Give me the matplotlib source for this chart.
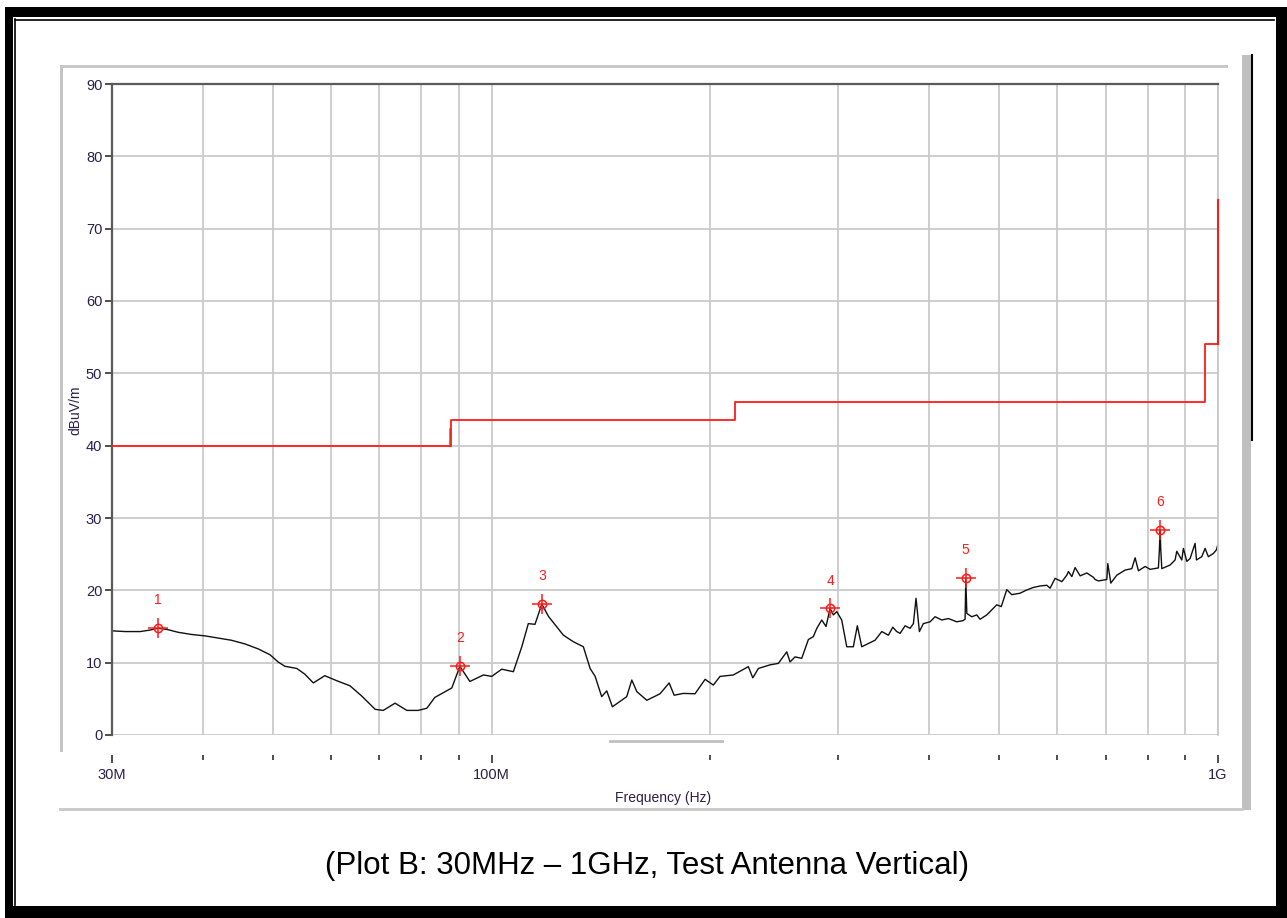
import matplotlib
matplotlib.use("Agg")
import matplotlib.pyplot as plt
from matplotlib.patches import Rectangle
from matplotlib.lines import Line2D
from matplotlib.ticker import FixedLocator, NullFormatter

# measured trace (frequency in MHz, level in dBuV/m)
trace_mhz = [30.0, 31.3, 32.8, 33.8, 34.7, 35.7, 37.0, 38.6, 40.3, 42.0, 43.8, 45.7, 47.7,
             49.5, 50.8, 51.9, 53.9, 55.3, 56.8, 58.9, 61.2, 63.8, 66.2, 69.1, 70.9, 73.6,
             76.4, 79.2, 81.4, 83.5, 88.1, 90.4, 93.3, 97.4, 100.0, 103.2, 107.1, 110.0,
             112.3, 114.7, 117.2, 119.7, 125.5, 129.5, 133.7, 136.6, 138.8, 141.7, 144.0,
             146.6, 153.4, 155.9, 158.4, 163.5, 170.5, 175.5, 178.3, 183.6, 190.5, 196.7,
             201.9, 206.2, 215.1, 225.6, 228.8, 232.9, 241.7, 248.1, 254.8, 257.5, 261.6,
             267.2, 272.9, 277.2, 280.3, 284.7, 288.6, 292.3, 295.4, 298.6, 303.3, 308.2,
             314.7, 318.7, 323.2, 337.1, 344.4, 351.7, 356.6, 361.1, 365.0, 370.8, 376.7,
             380.7, 383.9, 388.0, 392.9, 401.4, 407.8, 416.5, 425.4, 436.8, 445.2, 448.5,
             449.5, 451.0, 458.1, 465.4, 470.3, 480.4, 488.1, 495.9, 503.0, 511.9, 520.0,
             533.9, 545.3, 556.9, 568.9, 581.1, 587.2, 596.6, 609.7, 619.2, 622.4, 629.1,
             635.7, 645.9, 659.7, 673.7, 677.3, 684.4, 702.9, 705.1, 711.9, 725.6, 744.9,
             760.9, 768.9, 777.0, 793.7, 806.4, 827.8, 830.5, 832.3, 834.0, 836.8, 859.1,
             872.8, 877.5, 891.5, 896.1, 905.8, 915.3, 929.9, 934.0, 949.8, 959.9, 969.9,
             985.5, 995.0, 1000.0]
trace_db = [14.4, 14.3, 14.3, 14.5, 14.75, 14.6, 14.2, 13.9, 13.7, 13.4, 13.1, 12.6, 11.9,
            11.1, 10.1, 9.5, 9.2, 8.4, 7.2, 8.2, 7.5, 6.8, 5.4, 3.55, 3.4, 4.4,
            3.4, 3.4, 3.7, 5.2, 6.5, 9.5, 7.4, 8.3, 8.1, 9.1, 8.75, 12.2,
            15.4, 15.3, 18.1, 16.4, 13.8, 12.9, 12.2, 9.2, 8.1, 5.3, 6.1,
            3.9, 5.3, 7.6, 6.0, 4.8, 5.7, 7.2, 5.5, 5.75, 5.7, 7.7,
            6.9, 8.1, 8.3, 9.45, 7.9, 9.2, 9.7, 9.9, 11.5, 10.1, 10.8,
            10.6, 13.2, 13.6, 14.75, 15.9, 15.0, 17.5, 16.6, 17.05, 15.9, 12.2,
            12.2, 15.1, 12.2, 13.1, 14.3, 13.8, 14.9, 14.3, 14.05, 15.1, 14.75,
            15.4, 18.9, 14.3, 15.4, 15.65, 16.35, 15.9, 16.1, 15.65, 15.8, 16.0,
            21.6, 16.8, 16.35, 16.6, 16.0, 16.6, 17.3, 18.0, 17.75, 20.1, 19.4,
            19.6, 20.05, 20.4, 20.6, 20.7, 20.3, 21.65, 21.2, 22.1, 22.6, 21.9,
            23.15, 22.0, 22.4, 21.8, 21.5, 21.3, 21.5, 23.7, 21.0, 22.1, 22.8,
            23.0, 24.5, 22.7, 23.3, 22.9, 23.1, 25.7, 28.4, 25.7, 23.0, 23.5,
            24.2, 25.4, 24.2, 25.8, 24.0, 24.4, 26.5, 24.2, 24.65, 25.8, 24.65,
            25.1, 25.6, 26.4]

# limit line (step edges in MHz, level per step)
limit_edges_mhz = [30, 88, 216, 960, 1000]
limit_db = [40, 43.5, 46, 54]
limit_top_db = 74

# marker peaks
marker_mhz = [34.7, 90.4, 117.2, 292.3, 449.5, 832.3]
marker_db = [14.8, 9.5, 18.1, 17.5, 21.7, 28.4]
marker_labels = ['1', '2', '3', '4', '5', '6']

x_major = [30, 100, 1000]
x_major_labels = ['30M', '100M', '1G']
x_minor = [40, 50, 60, 70, 80, 90, 200, 300, 400, 500, 600, 700, 800, 900]
y_ticks = [0, 10, 20, 30, 40, 50, 60, 70, 80, 90]

W, H = 1287, 918
fig = plt.figure(figsize=(W / 100, H / 100), dpi=100)
fig.patch.set_facecolor('white')

TXT = '#2a1f4a'
RED = '#ff1a1a'


def fx(x):
    return x / W


def fy(y):
    return 1 - y / H


def fig_rect(x0, y0, x1, y1, color):
    fig.add_artist(Rectangle((fx(x0), fy(y1)), fx(x1) - fx(x0), fy(y0) - fy(y1),
                             transform=fig.transFigure, facecolor=color,
                             edgecolor='none', zorder=0))


def fig_line(xs, ys, color, lw):
    fig.add_artist(Line2D([fx(v) for v in xs], [fy(v) for v in ys],
                          transform=fig.transFigure, color=color, lw=lw, zorder=1))


# screenshot frame
fig_rect(5, 7, 1287, 17, 'black')
fig_rect(5, 7, 13, 918, 'black')
fig_rect(1276, 7, 1287, 918, 'black')
fig_rect(5, 906, 1287, 918, 'black')
fig_line([14.5, 14.5], [19, 905], 'black', 1.2)
fig_line([14.5, 1274], [19.5, 19.5], 'black', 1.2)

# panel borders
fig_rect(60, 65, 63, 752, '#c4c4c4')
fig_rect(60, 65, 1228, 68, '#c8c8c8')
fig_rect(1242, 55, 1251, 810, '#c0c0c0')
fig_line([1252, 1252], [55, 440], 'black', 1.5)
fig_line([60, 1242], [808.5, 808.5], '#c8c8c8', 2)
fig_line([610, 722], [740.5, 740.5], '#c0c0c0', 2)

ax = fig.add_axes([fx(112), fy(735), fx(1218) - fx(112), fy(84) - fy(735)])
ax.set_facecolor('white')
ax.set_xscale('log')
ax.set_xlim(30, 1000)
ax.set_ylim(0, 90)

ax.set_axisbelow(True)
ax.grid(True, which='both', axis='both', color='#cacaca', lw=1.3)

# limit line
ax.plot([87.6, 87.6], [40, 42.3], color='#20c020', lw=1.2)
ax.step(limit_edges_mhz, limit_db + [limit_db[-1]], where='post', color=RED, lw=1.3,
        clip_on=False, zorder=3)
ax.plot([limit_edges_mhz[-1], limit_edges_mhz[-1]], [limit_db[-1], limit_top_db],
        color=RED, lw=1.5, clip_on=False, zorder=4)

# trace
ax.plot(trace_mhz, trace_db, color='#101010', lw=1.0)

# markers
ax.plot(marker_mhz, marker_db, ls='none', marker='+', ms=14, mew=1.1, color=RED)
ax.plot(marker_mhz, marker_db, ls='none', marker='o', ms=6, mew=1.1,
        mfc='none', mec=RED)
for f, v, lab in zip(marker_mhz, marker_db, marker_labels):
    ax.annotate(lab, (f, v), xytext=(0, 15), textcoords='offset points',
                ha='center', va='bottom', color=RED, fontsize=10,
                family='Liberation Sans')

# axes styling
for s in ['left', 'top']:
    ax.spines[s].set_color('#5a5a5a')
    ax.spines[s].set_linewidth(1.6)
ax.spines['right'].set_color('#c8c8c8')
ax.spines['right'].set_linewidth(1.3)
ax.spines['bottom'].set_position(('outward', 14.5))
ax.spines['bottom'].set_visible(False)

ax.xaxis.set_major_locator(FixedLocator(x_major))
ax.xaxis.set_minor_locator(FixedLocator(x_minor))
ax.set_xticklabels(x_major_labels)
ax.xaxis.set_minor_formatter(NullFormatter())
ax.tick_params(axis='x', which='major', length=6, width=1.2, color='#303030',
               pad=3, labelsize=10.5, labelcolor=TXT)
ax.tick_params(axis='x', which='minor', length=3.5, width=1.2, color='#303030')
ax.set_yticks(y_ticks)
ax.tick_params(axis='y', length=5, width=1.2, color='#303030', pad=2,
               labelsize=10.5, labelcolor=TXT)
for t in ax.get_xticklabels() + ax.get_yticklabels():
    t.set_family('Liberation Sans')

fig.text(fx(75), fy(410), 'dBuV/m', rotation=90, ha='center', va='center',
         fontsize=10, color=TXT, family='Liberation Sans')
fig.text(fx(663), fy(798), 'Frequency (Hz)', ha='center', va='center',
         fontsize=10, color=TXT, family='Liberation Sans')

fig.text(fx(647), fy(866), '(Plot B: 30MHz \u2013 1GHz, Test Antenna Vertical)',
         ha='center', va='center', fontsize=22.5, color='black', family='Liberation Sans')

fig.savefig('out.png', dpi=100)
